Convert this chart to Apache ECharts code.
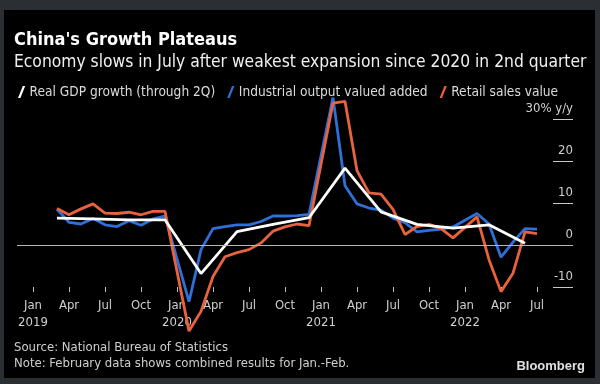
<!DOCTYPE html>
<html><head><meta charset="utf-8">
<script src="https://cdn.jsdelivr.net/npm/echarts@6/dist/echarts.min.js"></script>
<style>html,body{margin:0;padding:0;background:#2b2e33}#c{width:600px;height:384px}</style>
</head><body><div id="c"></div>
<script>
const monthNames = ['Jan','Feb','Mar','Apr','May','Jun','Jul','Aug','Sep','Oct','Nov','Dec'];
const startYear = 2019;
// Monthly y/y % from Jan 2019 to Jul 2022; null = no point (Jan-Feb combined result shown at Feb)
const industrialOutput = [null,null,8.5,5.4,5.0,6.3,4.8,4.4,5.8,4.7,6.2,6.9,
  null,-13.5,-1.1,3.9,4.4,4.8,4.8,5.6,6.9,6.9,7.0,7.3,
  null,35.1,14.1,9.8,8.8,8.3,6.4,5.3,3.1,3.5,3.8,4.3,
  null,7.5,5.0,-2.9,0.7,3.9,3.8];
const retailSales = [null,null,8.7,7.2,8.6,9.8,7.6,7.5,7.8,7.2,8.0,8.0,
  null,-20.5,-15.8,-7.5,-2.8,-1.8,-1.1,0.5,3.3,4.3,5.0,4.6,
  null,33.8,34.2,17.7,12.4,12.1,8.5,2.5,4.4,4.9,3.9,1.7,
  null,6.7,-3.5,-11.1,-6.7,3.1,2.7];
// Quarterly real GDP, plotted at the quarter's last month
const gdpQuarterEnd = ['Mar 2019','Jun 2019','Sep 2019','Dec 2019','Mar 2020','Jun 2020','Sep 2020','Dec 2020',
  'Mar 2021','Jun 2021','Sep 2021','Dec 2021','Mar 2022','Jun 2022'];
const gdpGrowth = [6.4,6.2,6.0,6.0,-6.8,3.2,4.9,6.5,18.3,7.9,4.9,4.0,4.8,0.4];
const xTickMonths = ['Jan 2019','Apr 2019','Jul 2019','Oct 2019','Jan 2020','Apr 2020','Jul 2020','Oct 2020',
  'Jan 2021','Apr 2021','Jul 2021','Oct 2021','Jan 2022','Apr 2022','Jul 2022'];
const yTicks = [-10, 0, 10, 20, 30];

const months = industrialOutput.map((_, i) => monthNames[i % 12] + ' ' + (startYear + Math.floor(i / 12)));
const toPairs = arr => arr.map((v, i) => [i, v]).filter(p => p[1] !== null);
const gdpPairs = gdpQuarterEnd.map((m, i) => [months.indexOf(m), gdpGrowth[i]]);
const tickIdx = xTickMonths.map(m => months.indexOf(m));

const FONT = '"DejaVu Sans Condensed", "DejaVu Sans", sans-serif';
const chart = echarts.init(document.getElementById('c'), null, {renderer: 'canvas'});
chart.setOption({
  animation: false,
  backgroundColor: '#2b2e33',
  textStyle: {fontFamily: FONT},
  grid: {left: 17, right: 27, top: 119, bottom: 97, containLabel: false},
  graphic: [
    {type: 'rect', z: -10, shape: {x: 4, y: 10, width: 591, height: 368}, style: {fill: '#000'}},
    {type: 'text', left: 14, top: 31, style: {text: "China's Growth Plateaus", fill: '#fff', font: 'bold 18px ' + FONT}},
    {type: 'text', left: 14, top: 54, style: {text: 'Economy slows in July after weakest expansion since 2020 in 2nd quarter', fill: '#f0f0f0', font: '17.3px ' + FONT}},
    {type: 'text', left: 14, top: 341, style: {text: 'Source: National Bureau of Statistics', fill: '#cfcfcf', font: '13px ' + FONT}},
    {type: 'text', left: 14, top: 357, style: {text: 'Note: February data shows combined results for Jan.-Feb.', fill: '#cfcfcf', font: '13px ' + FONT}},
    {type: 'text', right: 15, top: 360, style: {text: 'Bloomberg', fill: '#e0e0e0', font: 'bold 13px "Liberation Sans", Arial, sans-serif'}}
  ],
  legend: {
    left: 13, top: 80, itemWidth: 8, itemHeight: 12, itemGap: 12,
    icon: 'path://M4,0 L6,0 L2,10 L0,10 Z',
    textStyle: {color: '#dcdcdc', fontSize: 13.6, fontFamily: FONT, padding: [0, 0, 0, -1]},
    data: ['Real GDP growth (through 2Q)', 'Industrial output valued added', 'Retail sales value']
  },
  xAxis: {
    type: 'value', min: -4 / 3, max: 45,
    axisLine: {show: false, onZero: false}, splitLine: {show: false},
    axisTick: {show: true, customValues: tickIdx, length: 5, lineStyle: {color: '#bbb'}},
    axisLabel: {
      customValues: tickIdx, color: '#cfcfcf', fontSize: 13, margin: 10, lineHeight: 17,
      formatter: v => {
        const i = Math.round(v);
        const m = monthNames[i % 12];
        return m === 'Jan' ? m + '\n' + (startYear + Math.floor(i / 12)) : m;
      }
    }
  },
  yAxis: {
    type: 'value', position: 'left', offset: -556,
    min: yTicks[0], max: yTicks[yTicks.length - 1], interval: 10,
    splitLine: {show: false}, axisLine: {show: false},
    axisTick: {show: true, inside: false, length: 20, lineStyle: {color: '#c8c8c8', width: 1}},
    axisLabel: {
      inside: false, margin: 0, verticalAlign: 'bottom', align: 'right', padding: [0, 0, 4, 0],
      color: '#cfcfcf', fontSize: 13,
      formatter: v => v === 30 ? '30% y/y' : String(v)
    }
  },
  series: [
    {
      name: 'Industrial output valued added', type: 'line', data: toPairs(industrialOutput),
      showSymbol: false, clip: false, color: '#2f6fd8', lineStyle: {width: 2.8, color: '#2f6fd8'},
      markLine: {silent: true, symbol: 'none', label: {show: false},
        lineStyle: {color: '#b5b5b5', width: 1, type: 'solid'}, data: [{yAxis: 0}]}
    },
    {
      name: 'Retail sales value', type: 'line', data: toPairs(retailSales),
      showSymbol: false, clip: false, color: '#e8623e', lineStyle: {width: 2.8, color: '#e8623e'}
    },
    {
      name: 'Real GDP growth (through 2Q)', type: 'line', data: gdpPairs,
      showSymbol: false, clip: false, color: '#ffffff', lineStyle: {width: 2.8, color: '#ffffff'}
    }
  ]
});
</script></body></html>
